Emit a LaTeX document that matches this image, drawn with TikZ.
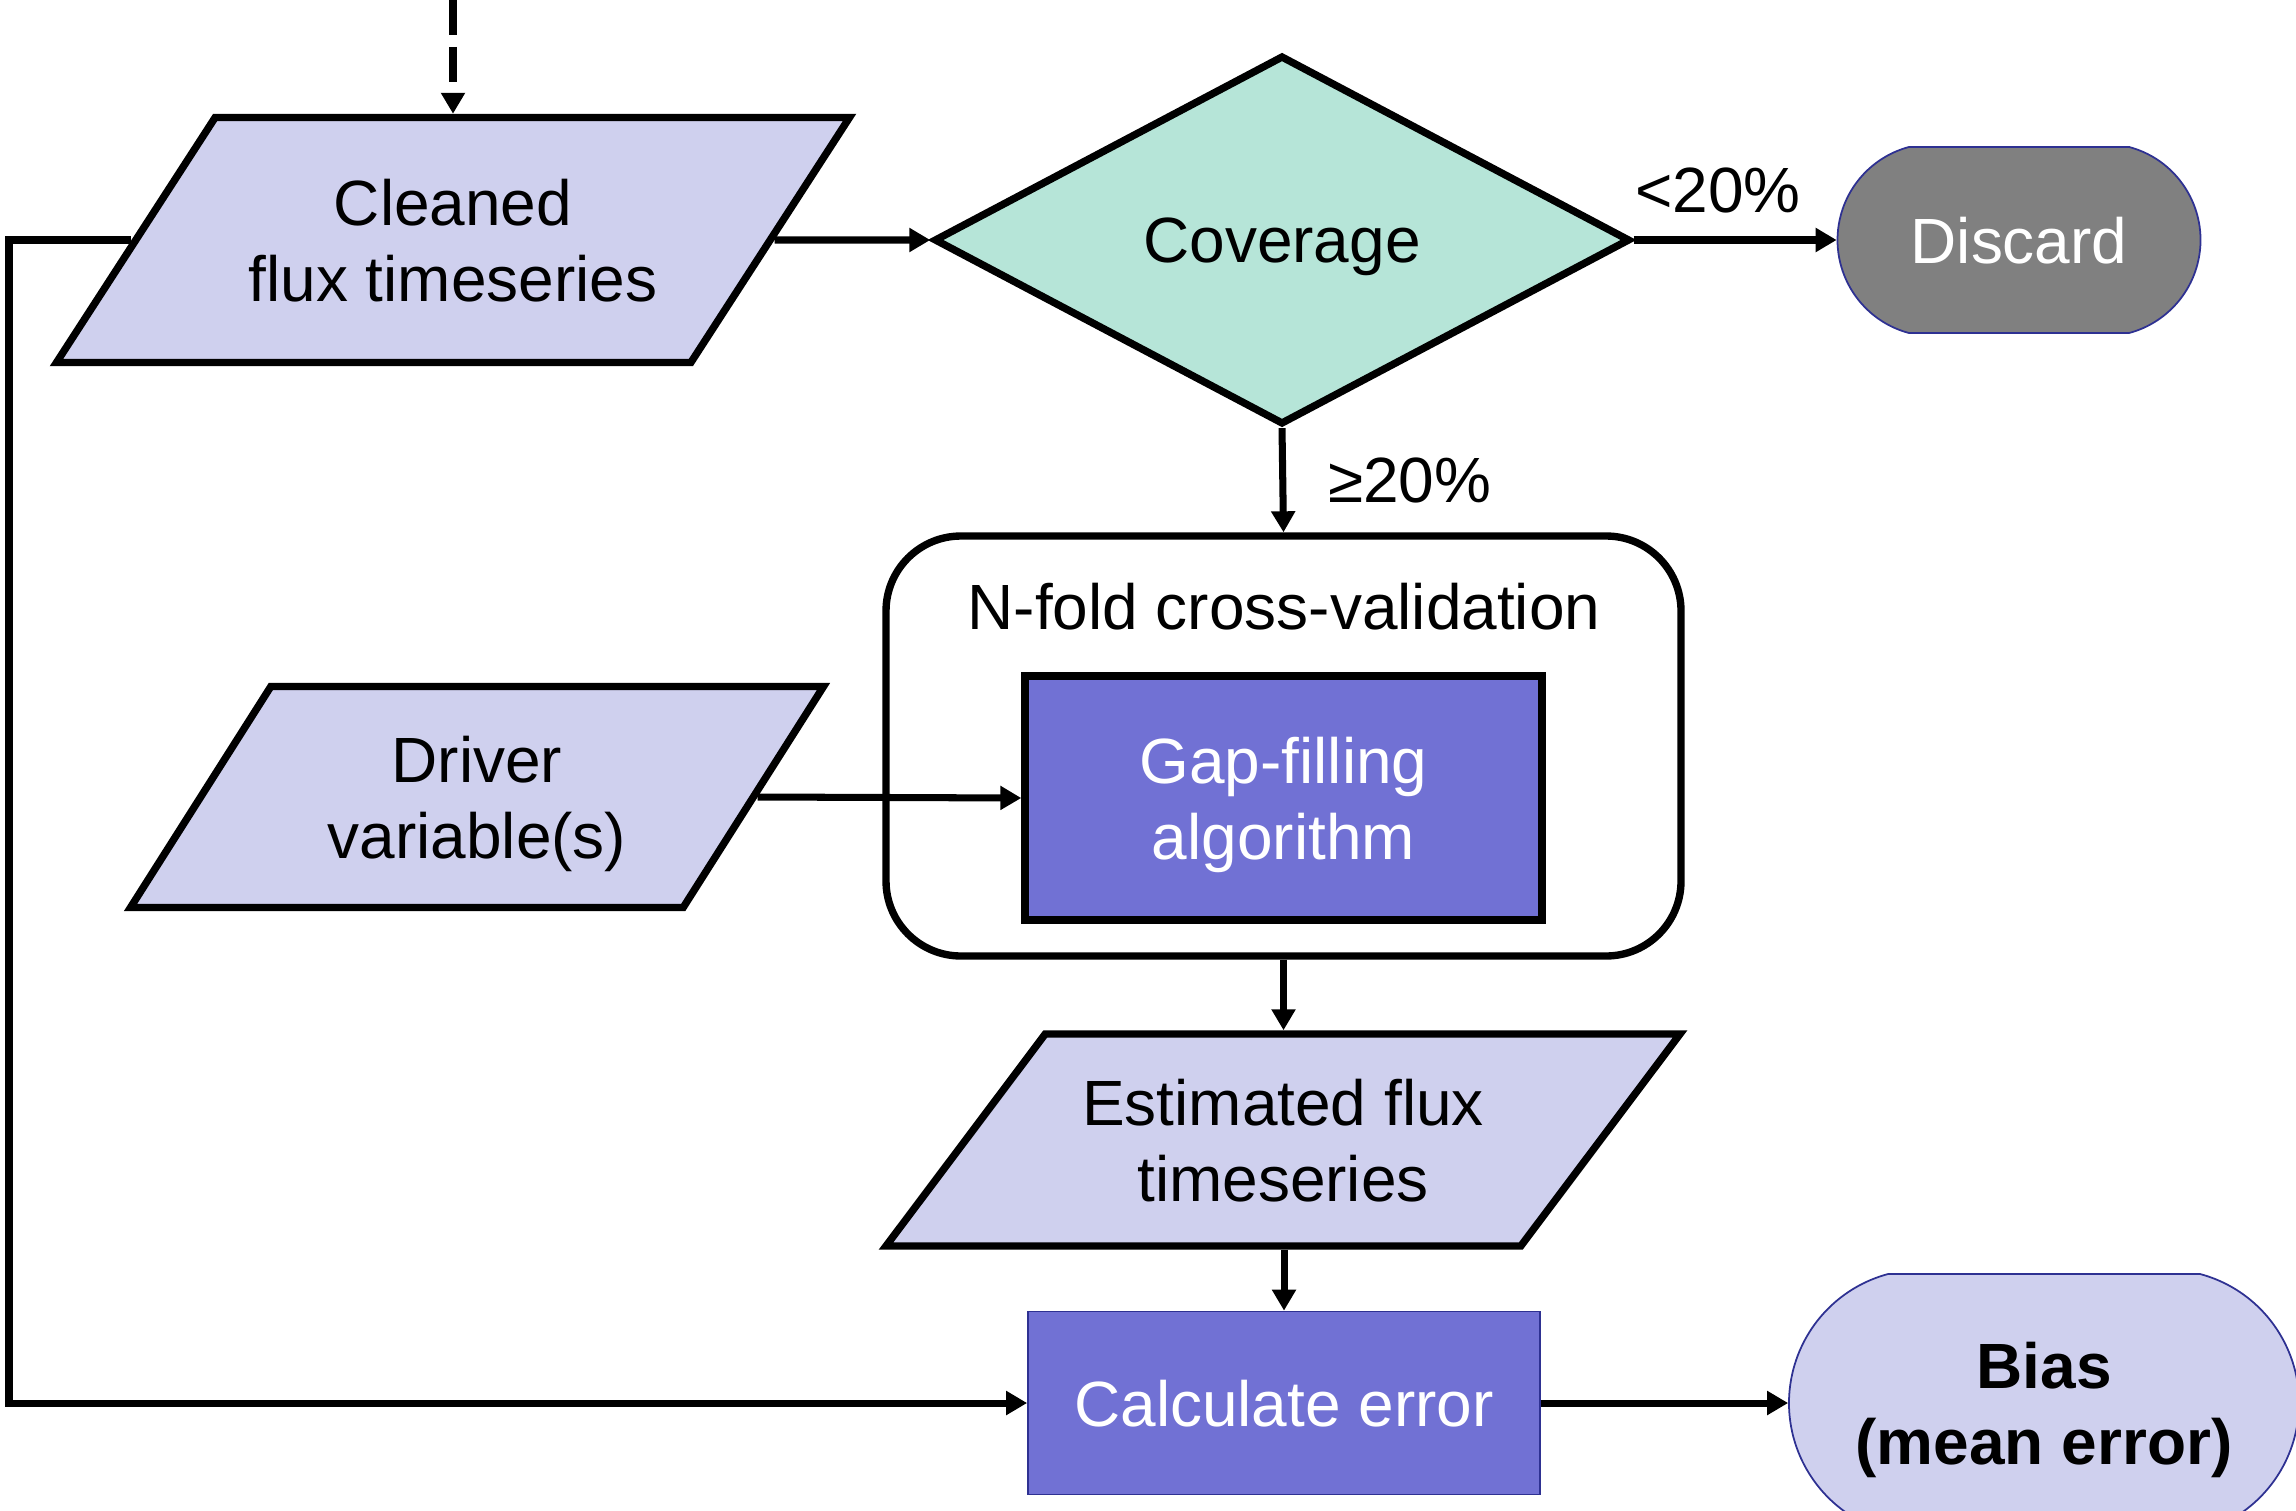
\documentclass[tikz,border=0pt]{standalone}
\usepackage{fontspec}
\setmainfont{Liberation Sans}
\usetikzlibrary{shapes.geometric,shapes.misc,arrows.meta}
\definecolor{lavender}{HTML}{CFD0EE}
\definecolor{mint}{HTML}{B6E5D8}
\definecolor{gapblue}{HTML}{7171D4}
\definecolor{bordblue}{HTML}{2E3192}
\definecolor{discgray}{HTML}{808080}

\begin{document}
\begin{tikzpicture}[
		font=\fontsize{18.2}{21.6}\selectfont,
		every node/.style={align=center, text depth=0pt},
		io/.style={trapezium, trapezium stretches body=true, draw, line width=2.1pt, fill=lavender, inner xsep=0pt},
		decision/.style={diamond, draw, line width=2.1pt, fill=mint, inner sep=0pt},
		terminal/.style={rounded rectangle, rounded rectangle arc length=150, draw=bordblue, line width=0.5pt, inner sep=0pt},
		process/.style={rectangle, fill=gapblue, text=white, inner sep=0pt},
		arr/.style={line width=2pt, -{Triangle[length=0.21cm,width=0.23cm]}}
	]
	\useasboundingbox (0,0) rectangle (22.96,-15.10);
	\coordinate (src) at (4.53,0);
	\coordinate (leftx) at (0.09,0);
	\node[io, trapezium left angle=57, trapezium right angle=123, inner ysep=0.61cm, minimum width=7.93cm, minimum height=2.45cm] (clean) at (4.53,-2.40) {Cleaned\\flux timeseries};
	\node[decision, minimum width=6.96cm, minimum height=3.69cm] (cov) at (12.82,-2.40) {Coverage};
	\node[terminal, fill=discgray, text=white, minimum width=3.63cm, minimum height=1.86cm] (disc) at (20.19,-2.40) {Discard};
	\node[draw, line width=2.1pt, rounded corners=0.75cm, minimum width=7.95cm, minimum height=4.20cm] (nfold) at (12.835,-7.46) {};
	\node (nftitle) at (12.84,-6.06) {N-fold cross-validation};
	\node[process, draw, line width=2.1pt, minimum width=5.17cm, minimum height=2.44cm] (gap) at (12.835,-7.98) {Gap-filling\\algorithm};
	\node[io, trapezium left angle=57.5, trapezium right angle=122.5, inner ysep=0.49cm, minimum width=6.93cm, minimum height=2.21cm] (driver) at (4.77,-7.97) {Driver\\variable(s)};
	\node[io, trapezium left angle=53, trapezium right angle=127, inner ysep=0.445cm, minimum width=7.94cm, minimum height=2.12cm] (est) at (12.83,-11.40) {Estimated flux\\timeseries};
	\node[process, draw=bordblue, line width=0.5pt, minimum width=5.12cm, minimum height=1.83cm] (calc) at (12.84,-14.03) {Calculate error};
	\node[terminal, fill=lavender, minimum width=5.10cm, minimum height=2.58cm, font=\fontsize{18.2}{21.6}\selectfont\bfseries] (bias) at (20.44,-14.03) {Bias\\(mean error)};

	\draw[arr, dash pattern=on 0.35cm off 0.12cm] (src) -- (src |- clean.north);
	\path[arr]
		(clean.0) edge (cov.west)
		(cov.east) edge node[above=0.12cm, xshift=-0.17cm]{<20\%} (disc.west)
		(cov.south) edge node[right=0.3cm]{≥20\%} (nfold.north)
		(driver.0) edge (gap.west)
		(nfold.south) edge (nfold.south |- est.north)
		(calc.north |- est.south) edge (calc.north)
		(calc.east) edge (bias.west);
	\draw[arr] (clean.180) -- (clean.180 -| leftx) |- (calc.west);
\end{tikzpicture}
\end{document}
